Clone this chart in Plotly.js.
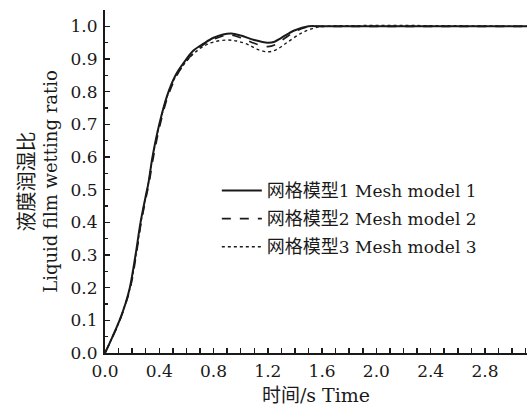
<!DOCTYPE html>
<html>
<head>
<meta charset="utf-8">
<script src="https://cdn.plot.ly/plotly-3.0.1.min.js"></script>
<style>html,body{margin:0;padding:0;background:#fff;}#chart{width:527px;height:409px;}</style>
</head>
<body>
<div id="chart"></div>
<script>
// Series 1: 网格模型1 Mesh model 1
const t1 = [0, 0.05, 0.107, 0.15, 0.183, 0.225, 0.262, 0.30, 0.32, 0.35, 0.40, 0.46, 0.52, 0.58, 0.65, 0.73, 0.80, 0.87, 0.93, 1.00, 1.10, 1.20, 1.25, 1.30, 1.40, 1.50, 1.60, 3.11];
const v1 = [0, 0.045, 0.10, 0.15, 0.20, 0.30, 0.40, 0.48, 0.52, 0.60, 0.70, 0.79, 0.85, 0.888, 0.925, 0.948, 0.965, 0.975, 0.978, 0.972, 0.958, 0.950, 0.953, 0.965, 0.988, 1.0, 1.0, 1.0];
// Series 2: 网格模型2 Mesh model 2
const t2 = [0, 0.05, 0.11, 0.187, 0.23, 0.267, 0.305, 0.325, 0.357, 0.407, 0.467, 0.53, 0.59, 0.66, 0.73, 0.80, 0.88, 0.93, 1.00, 1.10, 1.20, 1.26, 1.32, 1.42, 1.52, 1.60, 3.11];
const v2 = [0, 0.044, 0.10, 0.20, 0.30, 0.40, 0.48, 0.52, 0.60, 0.70, 0.79, 0.85, 0.888, 0.922, 0.945, 0.960, 0.972, 0.973, 0.965, 0.948, 0.938, 0.945, 0.962, 0.988, 1.0, 1.0, 1.0];
// Series 3: 网格模型3 Mesh model 3
const t3 = [0, 0.05, 0.108, 0.185, 0.228, 0.265, 0.30, 0.32, 0.352, 0.402, 0.462, 0.525, 0.585, 0.65, 0.73, 0.80, 0.90, 0.97, 1.05, 1.12, 1.20, 1.26, 1.34, 1.45, 1.55, 1.62, 3.11];
const v3 = [0, 0.045, 0.10, 0.20, 0.30, 0.40, 0.48, 0.52, 0.60, 0.70, 0.79, 0.85, 0.885, 0.915, 0.940, 0.952, 0.958, 0.955, 0.945, 0.930, 0.922, 0.928, 0.950, 0.980, 0.996, 1.0, 1.0];

const cjkName = '网格模型';
const enNames = ['1 Mesh model 1', '2 Mesh model 2', '3 Mesh model 3'];
const xTitleCJK = '时间', xTitleEN = '/s Time';
const yTitleCJK = '液膜润湿比', yTitleEN = 'Liquid film wetting ratio';

const FONT = 'DejaVu Serif, Liberation Serif, Noto Sans CJK SC, serif';
const INK = '#1a1a1a';
const big = (s, px) => '<span style="font-size:' + px + 'px">' + s + '</span>';

const traces = [
  {x: t1, y: v1, name: big(cjkName, 18) + enNames[0], legendgroup: 'a', mode: 'lines', line: {color: INK, width: 2, shape: 'spline', dash: 'solid'}},
  {x: t2, y: v2, name: big(cjkName, 18) + enNames[1], legendgroup: 'b', mode: 'lines', line: {color: INK, width: 1.6, shape: 'spline', dash: 'dash'}},
  {x: t3, y: v3, name: big(cjkName, 18) + enNames[2], legendgroup: 'c', mode: 'lines', line: {color: INK, width: 1.4, shape: 'spline', dash: 'dot'}}
];

const layout = {
  width: 527, height: 409,
  margin: {l: 104.5, r: 0, t: 10, b: 55.7, pad: 0},
  paper_bgcolor: '#fff', plot_bgcolor: '#fff',
  font: {family: FONT, size: 16, color: INK},
  showlegend: true,
  legend: {x: 0.265, y: 0.525, xanchor: 'left', yanchor: 'top', bgcolor: 'rgba(0,0,0,0)',
           font: {family: FONT, size: 17, color: INK}, tracegroupgap: 3, itemwidth: 40},
  xaxis: {
    range: [0, 3.11], tick0: 0, dtick: 0.4, tickformat: '.1f',
    ticks: 'inside', ticklen: 5, tickwidth: 1.5, tickcolor: INK,
    minor: {dtick: 0.1, ticks: 'inside', ticklen: 5, tickwidth: 1.5, tickcolor: INK},
    showline: true, linecolor: INK, linewidth: 2, showgrid: false, zeroline: false,
    tickfont: {family: FONT, size: 17, color: INK}, ticklabelstandoff: 2,
    title: {text: big(xTitleCJK, 19) + xTitleEN, font: {family: FONT, size: 19, color: INK}, standoff: 8}
  },
  yaxis: {
    range: [0, 1.05], tick0: 0, dtick: 0.1, tickformat: '.1f',
    ticks: 'inside', ticklen: 5, tickwidth: 1.5, tickcolor: INK,
    minor: {dtick: 0.05, ticks: 'inside', ticklen: 3, tickwidth: 1.5, tickcolor: INK},
    showline: true, linecolor: INK, linewidth: 2, showgrid: false, zeroline: false,
    tickfont: {family: FONT, size: 17, color: INK}, ticklabelstandoff: 2,
    title: {text: big(yTitleCJK, 20) + '<br>' + yTitleEN,
            font: {family: FONT, size: 18, color: INK}, standoff: 8}
  }
};

Plotly.newPlot('chart', traces, layout, {displayModeBar: false, staticPlot: true});
</script>
</body>
</html>
